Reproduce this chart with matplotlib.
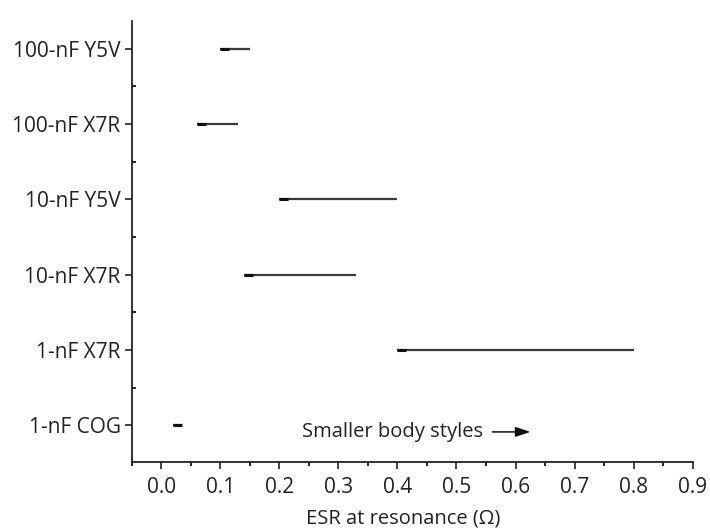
import matplotlib
matplotlib.use("Agg")
import matplotlib.pyplot as plt
from matplotlib.ticker import FixedLocator

plt.rcParams['font.family'] = ['Open Sans', 'DejaVu Sans']

categories = ["1-nF COG", "1-nF X7R", "10-nF X7R", "10-nF Y5V", "100-nF X7R", "100-nF Y5V"]
esr_low = [0.02, 0.40, 0.14, 0.20, 0.06, 0.10]
esr_high = [0.035, 0.80, 0.33, 0.40, 0.13, 0.15]
x_ticks = [0.0, 0.1, 0.2, 0.3, 0.4, 0.5, 0.6, 0.7, 0.8, 0.9]

fig = plt.figure(figsize=(7.10, 5.31), dpi=100)
ax = fig.add_axes([0.1855, 0.1299, 0.7901, 0.8306])

ys = list(range(len(categories)))
for y, lo, hi in zip(ys, esr_low, esr_high):
    ax.plot([lo, hi], [y, y], color='#3a3a3a', lw=1.6, solid_capstyle='butt')
    ax.plot([lo, min(hi, lo + 0.015)], [y, y], color='#111111', lw=2.2, solid_capstyle='butt')

ax.set_xlim(-0.05, 0.9)
ax.set_ylim(-0.49, 5.37)
ax.set_yticks(ys)
ax.set_yticklabels(categories)
ax.yaxis.set_minor_locator(FixedLocator([y + 0.5 for y in ys[:-1]]))
ax.set_xticks(x_ticks)
ax.set_xticklabels([f"{v:.1f}" for v in x_ticks])
ax.xaxis.set_minor_locator(FixedLocator([-0.05 + 0.1 * i for i in range(10)]))

for s in ['top', 'right']:
    ax.spines[s].set_visible(False)
for s in ['left', 'bottom']:
    ax.spines[s].set_linewidth(1.3)
    ax.spines[s].set_color('#222222')

ax.tick_params(axis='x', which='major', direction='out', length=5, width=1.2, labelsize=15, pad=6, colors='#222222')
ax.tick_params(axis='x', which='minor', direction='out', length=3, width=1.2)
ax.tick_params(axis='y', which='major', direction='out', length=5, width=1.2, labelsize=15, pad=3, colors='#222222')
ax.tick_params(axis='y', which='minor', direction='in', length=3, width=1.2)

ax.set_xlabel("ESR at resonance (Ω)", fontsize=14.5, color='#222222', va='center')
ax.xaxis.set_label_coords(0.4836, -0.127)

ax.text(0.238, -0.09, "Smaller body styles", fontsize=14.5, va='center', ha='left', color='#222222')
ax.annotate("", xy=(0.63, -0.09), xytext=(0.556, -0.09),
            arrowprops=dict(arrowstyle='-|>,head_length=0.9,head_width=0.3', color='#111111', lw=1.1))

fig.savefig("out.png", dpi=100)
